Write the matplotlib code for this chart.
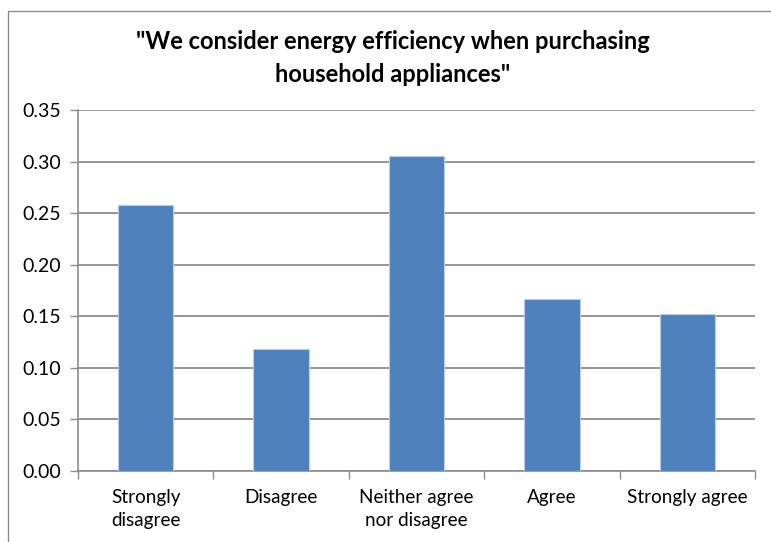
import matplotlib
matplotlib.use("Agg")
import matplotlib.pyplot as plt
from matplotlib.patches import Rectangle
import numpy as np

categories = ["Strongly\ndisagree", "Disagree", "Neither agree\nnor disagree", "Agree", "Strongly agree"]
shares = [0.258, 0.118, 0.305, 0.167, 0.152]
yticks = [0.00, 0.05, 0.10, 0.15, 0.20, 0.25, 0.30, 0.35]
title = "\"We consider energy efficiency when purchasing\nhousehold appliances\""

plt.rcParams["font.family"] = ["Lato", "DejaVu Sans"]

W, H = 771, 542
fig = plt.figure(figsize=(W / 100, H / 100), dpi=100)
fig.patch.set_facecolor("white")

# outer chart frame (right and bottom edges run off the canvas)
fig.patches.append(Rectangle((8 / W, -0.2), 1.2, 1.2 - 11 / H,
                             transform=fig.transFigure, fill=False,
                             edgecolor="#8c8c8c", linewidth=1.0))

ax = fig.add_axes([78 / W, 1 - 471 / H, (755 - 78) / W, (471 - 110) / H])

x = np.arange(len(categories))
ax.bar(x, shares, width=0.41, color="#4F81BD", edgecolor="#b8cce4",
       linewidth=0.8, zorder=3)

ax.set_xlim(-0.5, len(categories) - 0.5)
ax.set_ylim(0, 0.35)
ax.set_yticks(yticks)
ax.set_yticklabels([f"{v:.2f}" for v in yticks], fontsize=14)
ax.yaxis.grid(True, color="#8c8c8c", linewidth=1.3, zorder=0)
ax.set_axisbelow(True)

ax.set_xticks(x)
ax.set_xticklabels(categories, fontsize=13.6, linespacing=1.4)
ax.tick_params(axis="x", length=0, pad=13)
ax.set_xticks(np.arange(-0.5, len(categories)), minor=True)
ax.tick_params(axis="x", which="minor", length=6, color="#8c8c8c", width=1)
ax.tick_params(axis="y", length=6, color="#8c8c8c", width=1, pad=6)

for side in ("top", "right"):
    ax.spines[side].set_visible(False)
for side in ("left", "bottom"):
    ax.spines[side].set_color("#8c8c8c")
    ax.spines[side].set_linewidth(1.2)

fig.text(393 / W, 1 - 58 / H, title, ha="center", va="center",
         fontsize=17, fontweight="bold", linespacing=1.55)

fig.savefig("out.png", dpi=100, facecolor="white")
